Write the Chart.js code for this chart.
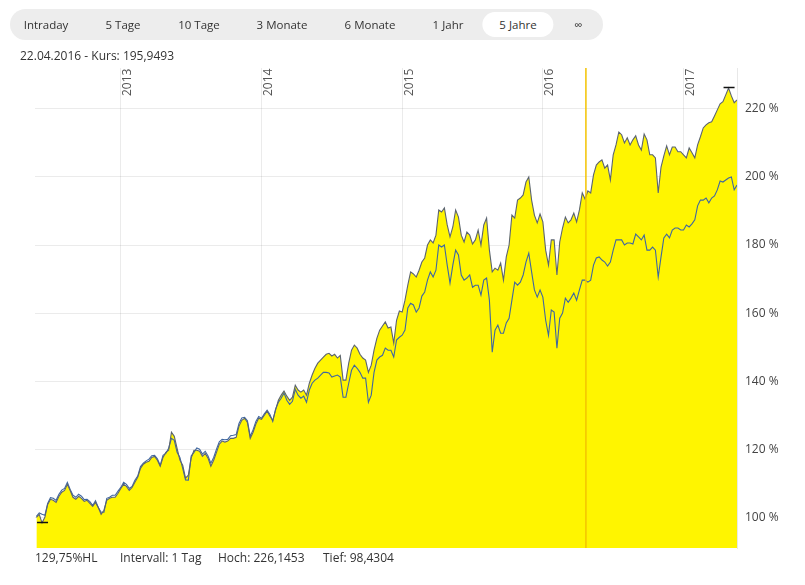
<!DOCTYPE html>
<html>
<head>
<meta charset="utf-8">
<script src="https://cdn.jsdelivr.net/npm/chart.js@4"></script>
<style>
  body { margin: 0; width: 805px; height: 585px; position: relative; background: #fff; font-family: "Open Sans", sans-serif; color: #333; overflow: hidden; }
  #chart { position: absolute; left: 0; top: 0; }
  .tabs { position: absolute; left: 10px; top: 9px; width: 593px; height: 31px; background: #ededed; border-radius: 16px; z-index: 2; }
  .tab { position: absolute; top: 0; line-height: 31px; font-size: 11.5px; transform: translateX(-50%); white-space: nowrap; }
  .tab.active { background: #fff; border-radius: 13px; top: 3px; line-height: 25px; padding: 0 17px; }
  .info { position: absolute; font-size: 12px; white-space: nowrap; z-index: 2; line-height: 14px; }
</style>
</head>
<body>
<div class="tabs">
  <span class="tab" style="left:36px">Intraday</span>
  <span class="tab" style="left:113px">5 Tage</span>
  <span class="tab" style="left:189px">10 Tage</span>
  <span class="tab" style="left:272px">3 Monate</span>
  <span class="tab" style="left:360px">6 Monate</span>
  <span class="tab" style="left:438px">1 Jahr</span>
  <span class="tab active" style="left:508px">5 Jahre</span>
  <span class="tab" style="left:568px">∞</span>
</div>
<div class="info" style="left:20px; top:49px">22.04.2016 - Kurs: 195,9493</div>
<div class="info" style="left:35px; top:551px">129,75%HL</div>
<div class="info" style="left:120px; top:551px">Intervall: 1 Tag</div>
<div class="info" style="left:218px; top:551px">Hoch: 226,1453</div>
<div class="info" style="left:323px; top:551px">Tief: 98,4304</div>
<canvas id="chart" width="805" height="585"></canvas>
<script>
// time axis in decimal years
const dates = [
  2012.40, 2012.42, 2012.44, 2012.46, 2012.48, 2012.50, 2012.52, 2012.54, 2012.56, 2012.58,
  2012.60, 2012.62, 2012.64, 2012.66, 2012.68, 2012.70, 2012.72, 2012.74, 2012.76, 2012.78,
  2012.80, 2012.82, 2012.84, 2012.86, 2012.88, 2012.90, 2012.92, 2012.94, 2012.96, 2012.98,
  2013.00, 2013.02, 2013.04, 2013.06, 2013.08, 2013.10, 2013.12, 2013.14, 2013.16, 2013.18,
  2013.20, 2013.22, 2013.24, 2013.26, 2013.28, 2013.30, 2013.32, 2013.34, 2013.36, 2013.38,
  2013.40, 2013.42, 2013.44, 2013.46, 2013.48, 2013.50, 2013.52, 2013.54, 2013.56, 2013.58,
  2013.60, 2013.62, 2013.64, 2013.66, 2013.68, 2013.70, 2013.72, 2013.74, 2013.76, 2013.78,
  2013.80, 2013.82, 2013.84, 2013.86, 2013.88, 2013.90, 2013.92, 2013.94, 2013.96, 2013.98,
  2014.00, 2014.02, 2014.04, 2014.06, 2014.08, 2014.10, 2014.12, 2014.14, 2014.16, 2014.18,
  2014.20, 2014.22, 2014.24, 2014.26, 2014.28, 2014.30, 2014.32, 2014.34, 2014.36, 2014.38,
  2014.40, 2014.42, 2014.44, 2014.46, 2014.48, 2014.50, 2014.52, 2014.54, 2014.56, 2014.58,
  2014.60, 2014.62, 2014.64, 2014.66, 2014.68, 2014.70, 2014.72, 2014.74, 2014.76, 2014.78,
  2014.80, 2014.82, 2014.84, 2014.86, 2014.88, 2014.90, 2014.92, 2014.94, 2014.96, 2014.98,
  2015.00, 2015.02, 2015.04, 2015.06, 2015.08, 2015.10, 2015.12, 2015.14, 2015.16, 2015.18,
  2015.20, 2015.22, 2015.24, 2015.26, 2015.28, 2015.30, 2015.32, 2015.34, 2015.36, 2015.38,
  2015.40, 2015.42, 2015.44, 2015.46, 2015.48, 2015.50, 2015.52, 2015.54, 2015.56, 2015.58,
  2015.60, 2015.62, 2015.64, 2015.66, 2015.68, 2015.70, 2015.72, 2015.74, 2015.76, 2015.78,
  2015.80, 2015.82, 2015.84, 2015.86, 2015.88, 2015.90, 2015.92, 2015.94, 2015.96, 2015.98,
  2016.00, 2016.02, 2016.04, 2016.06, 2016.08, 2016.10, 2016.12, 2016.14, 2016.16, 2016.18,
  2016.20, 2016.22, 2016.24, 2016.26, 2016.28, 2016.30, 2016.32, 2016.34, 2016.36, 2016.38,
  2016.40, 2016.42, 2016.44, 2016.46, 2016.48, 2016.50, 2016.52, 2016.54, 2016.56, 2016.58,
  2016.60, 2016.62, 2016.64, 2016.66, 2016.68, 2016.70, 2016.72, 2016.74, 2016.76, 2016.78,
  2016.80, 2016.82, 2016.84, 2016.86, 2016.88, 2016.90, 2016.92, 2016.94, 2016.96, 2016.98,
  2017.00, 2017.02, 2017.04, 2017.06, 2017.08, 2017.10, 2017.12, 2017.14, 2017.16, 2017.18,
  2017.20, 2017.22, 2017.24, 2017.26, 2017.28, 2017.30, 2017.32, 2017.34, 2017.36, 2017.38
];

// upper series (yellow area), in %
const kurs = [
  100.0, 100.9, 98.4, 100.0, 103.8, 105.3, 105.0, 104.4, 106.2, 107.4,
  107.9, 109.7, 107.9, 105.9, 105.3, 106.2, 105.6, 104.7, 105.0, 104.1,
  103.2, 104.4, 102.9, 100.9, 102.1, 105.0, 105.6, 105.9, 105.9, 107.1,
  108.5, 109.7, 109.1, 107.9, 108.8, 110.3, 111.8, 114.4, 115.6, 116.2,
  116.5, 117.6, 117.9, 116.8, 115.0, 117.6, 119.1, 119.7, 125.0, 123.8,
  120.3, 116.8, 115.3, 111.5, 112.4, 117.4, 119.7, 119.7, 119.4, 117.9,
  118.8, 117.4, 115.0, 116.8, 119.1, 121.5, 122.4, 122.1, 122.4, 123.2,
  123.2, 123.5, 126.8, 128.5, 129.1, 127.9, 123.2, 125.0, 127.4, 129.1,
  128.8, 130.0, 131.2, 129.7, 128.5, 131.5, 134.4, 135.9, 137.1, 135.6,
  134.4, 135.3, 138.8, 137.4, 136.8, 137.4, 135.9, 139.4, 141.8, 143.8,
  145.3, 146.2, 147.1, 147.9, 148.2, 147.4, 147.9, 146.8, 147.6, 140.3,
  140.3, 145.3, 149.1, 150.6, 149.7, 147.9, 146.8, 146.2, 142.6, 144.7,
  149.1, 152.6, 155.0, 156.2, 157.4, 155.6, 155.9, 151.2, 157.9, 160.6,
  160.3, 163.8, 168.2, 172.1, 171.5, 170.6, 172.6, 175.0, 176.2, 180.0,
  181.5, 180.6, 182.9, 190.3, 189.7, 190.9, 185.9, 182.4, 185.3, 190.3,
  188.2, 182.9, 180.9, 183.8, 182.9, 180.3, 181.5, 184.4, 180.0, 185.9,
  187.9, 178.5, 172.1, 173.2, 172.6, 174.7, 169.7, 176.5, 180.0, 188.8,
  187.9, 193.2, 193.8, 194.7, 198.5, 200.0, 193.2, 188.8, 186.5, 189.1,
  186.8, 178.5, 174.1, 181.5, 181.5, 171.2, 180.9, 185.0, 188.2, 186.5,
  187.4, 189.4, 186.8, 190.3, 195.3, 193.5, 195.9, 195.3, 200.6, 203.5,
  204.4, 205.0, 202.6, 203.5, 199.1, 206.5, 209.4, 213.2, 212.4, 210.0,
  211.5, 209.4, 210.9, 212.1, 209.4, 207.9, 212.6, 210.9, 206.5, 206.5,
  205.6, 195.3, 202.9, 206.2, 209.1, 206.5, 208.8, 208.8, 207.4, 207.4,
  206.5, 205.6, 208.5, 207.1, 205.6, 209.4, 211.8, 214.4, 215.3, 215.9,
  216.2, 217.9, 219.7, 221.5, 222.1, 224.1, 226.1, 223.8, 221.8, 222.6
];

// lower series (blue line), in %
const vergleich = [
  100.3, 101.3, 100.9, 100.6, 104.1, 105.8, 105.6, 105.0, 106.8, 108.0,
  108.5, 110.3, 108.2, 106.5, 105.9, 106.8, 106.2, 105.2, 105.3, 104.6,
  103.5, 104.9, 102.9, 101.5, 101.5, 105.6, 105.9, 106.5, 106.5, 107.7,
  108.8, 110.3, 109.7, 108.5, 109.1, 110.9, 112.1, 114.9, 115.9, 116.6,
  117.1, 118.1, 118.2, 117.2, 115.3, 118.2, 118.8, 120.3, 123.2, 122.6,
  119.1, 117.6, 114.4, 111.0, 110.9, 118.0, 119.1, 120.4, 120.0, 118.6,
  119.4, 118.0, 115.9, 117.6, 120.0, 122.2, 122.9, 122.8, 122.9, 124.0,
  124.1, 124.3, 127.6, 129.2, 129.4, 128.4, 123.8, 125.7, 128.2, 129.6,
  129.1, 130.4, 131.5, 130.2, 128.2, 131.8, 133.8, 135.0, 136.5, 134.4,
  133.2, 134.1, 137.6, 135.9, 135.0, 135.6, 133.8, 137.4, 139.4, 140.3,
  140.9, 141.8, 142.6, 142.6, 142.4, 141.2, 141.5, 141.8, 141.2, 135.3,
  135.3, 139.4, 143.2, 144.7, 143.8, 142.6, 140.9, 140.9, 133.8, 135.9,
  142.6, 146.2, 147.1, 147.6, 149.7, 149.1, 149.1, 147.1, 152.1, 152.9,
  153.5, 155.0, 161.5, 162.9, 162.4, 160.3, 161.5, 165.0, 166.2, 169.7,
  172.1, 170.6, 172.6, 180.0, 179.4, 180.0, 174.1, 168.8, 174.1, 178.5,
  177.1, 171.2, 169.7, 170.3, 171.2, 167.6, 168.2, 168.2, 165.3, 169.7,
  170.3, 163.8, 148.5, 155.0, 156.5, 154.1, 154.1, 157.1, 158.5, 163.8,
  169.1, 168.2, 169.1, 171.2, 175.0, 177.6, 172.1, 166.8, 164.7, 166.8,
  164.7, 157.9, 153.5, 160.9, 160.3, 149.7, 158.5, 160.0, 164.4, 163.2,
  164.4, 165.9, 163.8, 166.8, 169.7, 169.7, 169.1, 169.7, 174.1, 176.2,
  176.5, 175.6, 175.0, 173.8, 175.0, 178.5, 181.5, 181.5, 181.5, 180.0,
  180.6, 180.6, 180.3, 183.2, 182.4, 181.5, 182.9, 178.5, 178.5, 179.4,
  178.5, 170.6, 176.5, 182.1, 183.2, 182.1, 184.4, 185.0, 185.0, 184.4,
  184.4, 185.9, 185.3, 186.2, 187.4, 191.5, 193.2, 193.2, 193.8, 192.4,
  193.8, 194.4, 196.2, 198.8, 198.5, 199.1, 199.7, 200.0, 196.2, 197.6
];

const yearTicks = [2013, 2014, 2015, 2016, 2017];
const pctTicks = [100, 120, 140, 160, 180, 200, 220];
const crossDate = 2016.306; // 22.04.2016

const overlay = {
  id: 'overlay',
  afterDatasetsDraw(chart) {
    const { ctx, chartArea: a, scales: { x, y } } = chart;
    ctx.save();

    // crosshair
    const cx = x.getPixelForValue(crossDate);
    ctx.strokeStyle = '#f3c300';
    ctx.lineWidth = 1.5;
    ctx.beginPath();
    ctx.moveTo(cx, a.top);
    ctx.lineTo(cx, a.bottom);
    ctx.stroke();

    // high / low markers
    const hi = kurs.indexOf(Math.max(...kurs));
    const lo = kurs.indexOf(Math.min(...kurs));
    ctx.strokeStyle = '#111';
    ctx.lineWidth = 1.5;
    [hi, lo].forEach(i => {
      const px = x.getPixelForValue(dates[i]);
      const py = Math.round(y.getPixelForValue(kurs[i])) - 0.5;
      ctx.beginPath();
      ctx.moveTo(px - 5, py);
      ctx.lineTo(px + 6, py);
      ctx.stroke();
    });

    // year labels, rotated, inside the plot
    ctx.font = '12px "Open Sans"';
    ctx.fillStyle = '#555';
    ctx.textAlign = 'left';
    ctx.textBaseline = 'top';
    yearTicks.forEach(yr => {
      const px = x.getPixelForValue(yr);
      ctx.save();
      ctx.translate(px + 1, a.top + 28);
      ctx.rotate(-Math.PI / 2);
      ctx.fillText(String(yr), 0, 0);
      ctx.restore();
    });
    ctx.restore();
  }
};

new Chart(document.getElementById('chart'), {
  type: 'line',
  data: {
    labels: dates,
    datasets: [
      {
        label: 'Kurs',
        data: dates.map((d, i) => ({ x: d, y: kurs[i] })),
        borderColor: '#5b6470',
        borderWidth: 1.1,
        backgroundColor: '#fff500',
        fill: 'start',
        pointRadius: 0,
        tension: 0
      },
      {
        label: 'Vergleich',
        data: dates.map((d, i) => ({ x: d, y: vergleich[i] })),
        borderColor: '#3f67a0',
        borderWidth: 1.1,
        fill: false,
        pointRadius: 0,
        tension: 0
      }
    ]
  },
  options: {
    responsive: false,
    animation: false,
    layout: { padding: { left: 35, top: 68, right: 0, bottom: 37 } },
    plugins: {
      legend: { display: false },
      tooltip: { enabled: false },
      filler: { drawTime: 'beforeDatasetsDraw' }
    },
    scales: {
      x: {
        type: 'linear',
        min: 2012.39,
        max: 2017.38,
        z: 1,
        afterBuildTicks: s => { s.ticks = yearTicks.map(v => ({ value: v })); },
        ticks: { display: false },
        grid: { color: 'rgba(0,0,0,0.08)', drawTicks: false },
        border: { display: false }
      },
      y: {
        position: 'right',
        min: 91,
        max: 232,
        z: 1,
        afterBuildTicks: s => { s.ticks = pctTicks.map(v => ({ value: v })); },
        afterFit: s => { s.width = 68; },
        ticks: {
          padding: 8,
          color: '#444',
          font: { family: 'Open Sans', size: 12 },
          callback: v => v + ' %'
        },
        grid: { color: 'rgba(0,0,0,0.08)', drawTicks: false },
        border: { display: true, color: '#e8e8e8' }
      }
    }
  },
  plugins: [overlay]
});
</script>
</body>
</html>
